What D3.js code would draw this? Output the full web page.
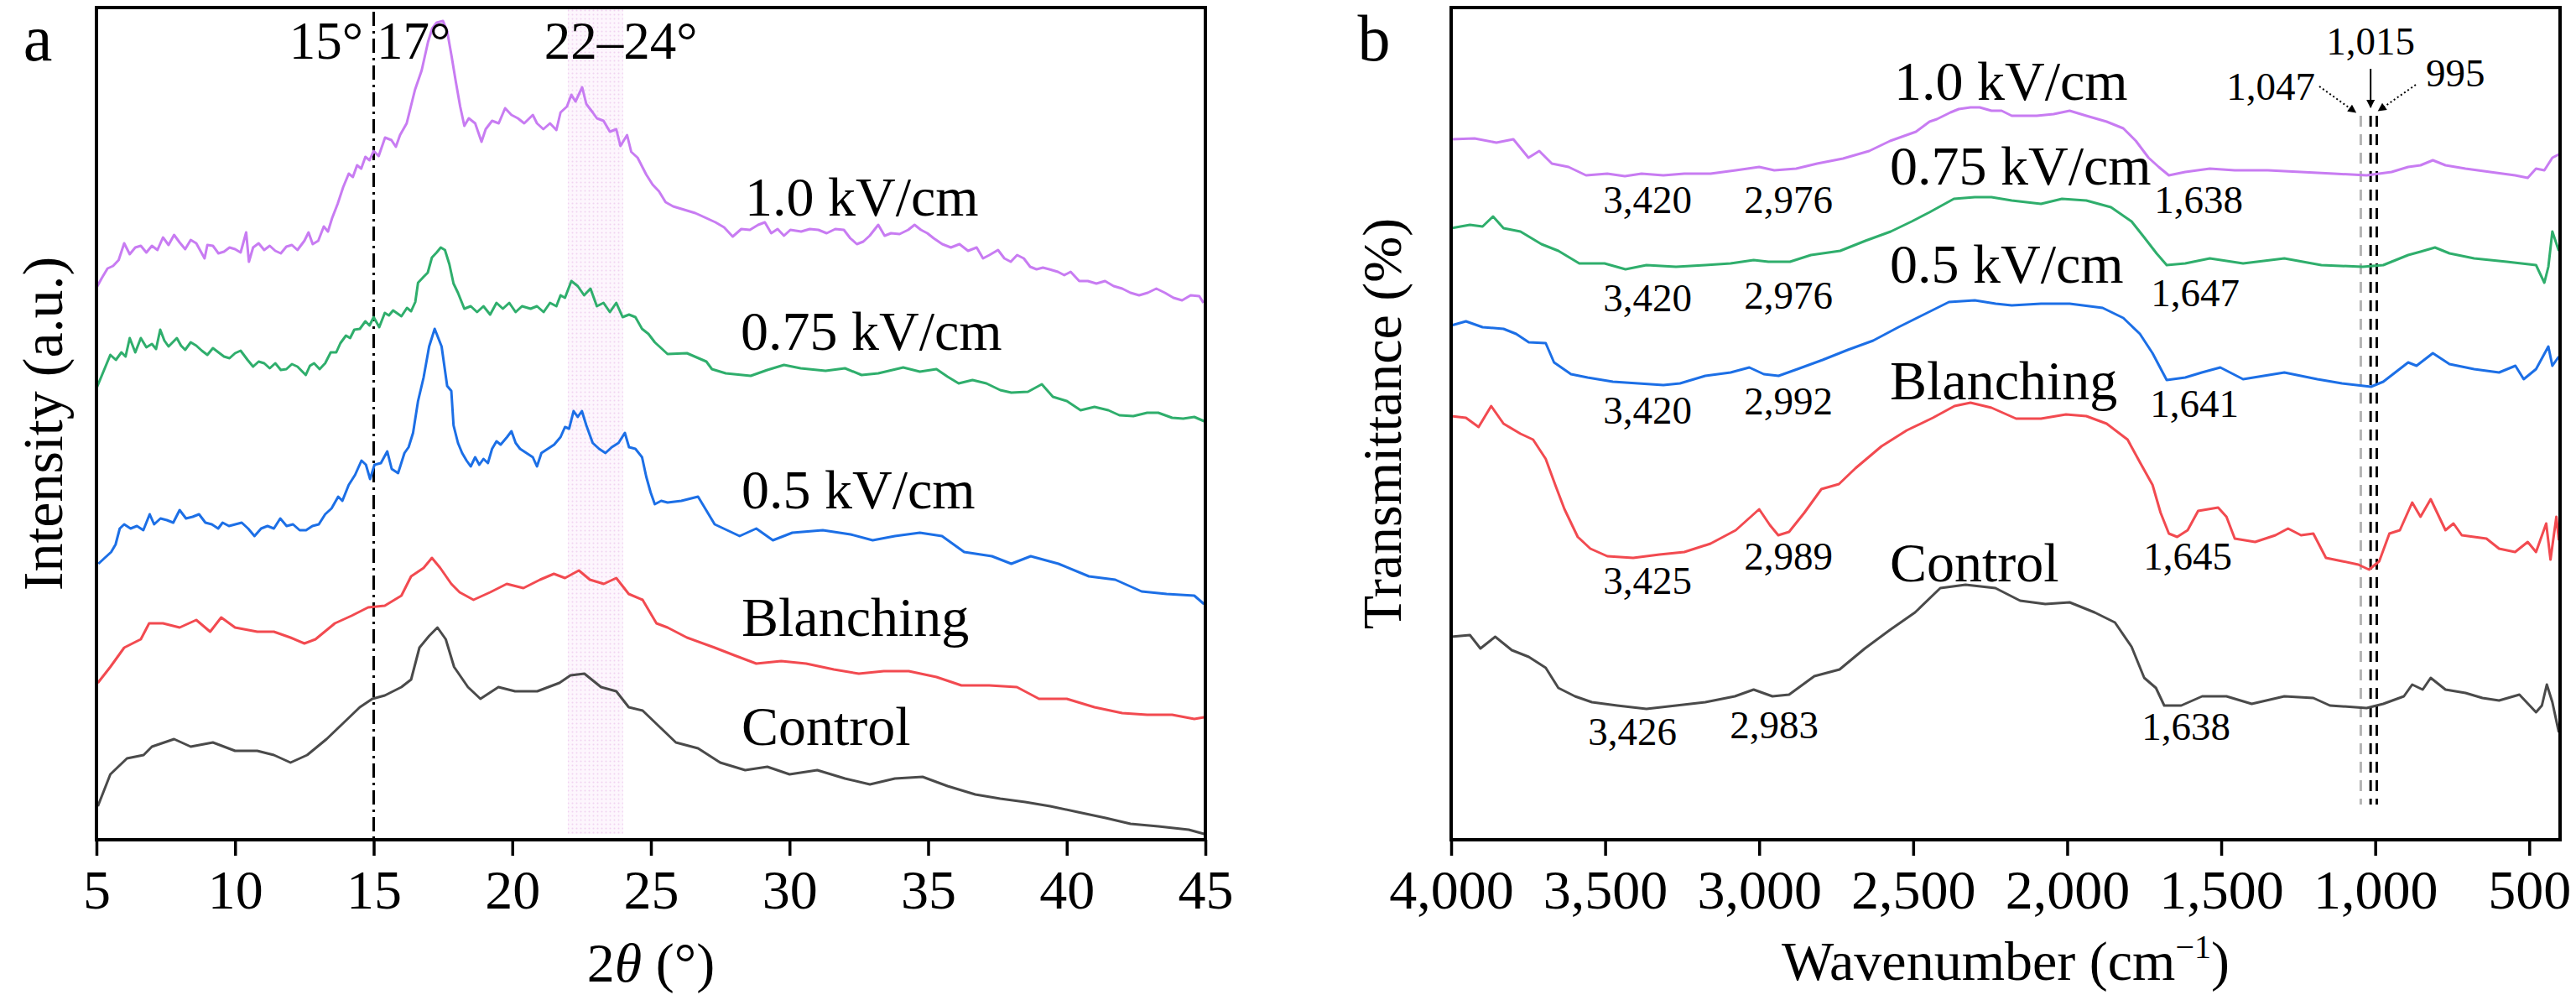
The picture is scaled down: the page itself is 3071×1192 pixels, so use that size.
<!DOCTYPE html>
<html><head><meta charset="utf-8">
<script src="https://cdn.jsdelivr.net/npm/d3@7/dist/d3.min.js"></script>
<style>
body{margin:0;background:#fff}
text{font-family:"Liberation Serif","Times New Roman",serif;fill:#000}
</style>
</head><body>
<svg id="chart" width="3071" height="1192" xmlns="http://www.w3.org/2000/svg"></svg>
<script>
// ---------------- DATA ----------------
const seriesNames = ["1.0 kV/cm", "0.75 kV/cm", "0.5 kV/cm", "Blanching", "Control"];
const xrdTicks = [5, 10, 15, 20, 25, 30, 35, 40, 45];
const ftirTicks = [4000, 3500, 3000, 2500, 2000, 1500, 1000, 500];
const markedWavenumbers = [1047, 1015, 995];

// XRD: [2θ (°), intensity (a.u., stacked)]
const xrd10 = [[5.0,65.8],[5.2,67.0],[5.4,68.1],[5.6,68.4],[5.8,69.1],[6.0,71.1],[6.2,69.8],[6.4,70.6],[6.6,70.8],[6.8,70.0],[7.0,70.8],[7.2,70.3],[7.4,71.8],[7.6,70.9],[7.8,72.1],[8.0,71.2],[8.2,70.4],[8.4,71.5],[8.6,71.1],[8.9,69.3],[9.0,70.9],[9.2,70.8],[9.4,69.9],[9.6,70.1],[9.8,70.6],[10.0,70.4],[10.2,70.0],[10.4,72.4],[10.5,68.9],[10.65,70.6],[10.85,71.1],[11.05,70.3],[11.25,70.8],[11.45,70.2],[11.65,69.9],[11.85,70.7],[12.05,70.9],[12.25,70.3],[12.5,71.4],[12.65,72.4],[12.8,71.0],[13.0,71.4],[13.2,73.1],[13.35,72.5],[13.5,74.1],[13.7,75.8],[13.9,77.8],[14.1,79.4],[14.25,79.0],[14.4,80.4],[14.55,80.0],[14.7,81.4],[14.85,81.0],[15.0,82.1],[15.18,81.5],[15.41,83.7],[15.64,83.4],[15.80,82.6],[15.95,84.0],[16.19,85.4],[16.34,87.4],[16.49,89.4],[16.73,91.7],[16.96,95.1],[17.11,96.7],[17.27,97.4],[17.50,97.6],[17.65,96.4],[17.81,93.4],[17.96,90.4],[18.12,87.4],[18.27,85.1],[18.43,86.0],[18.66,85.4],[18.89,83.2],[19.04,84.7],[19.27,85.7],[19.51,85.4],[19.74,87.2],[19.97,86.4],[20.20,86.0],[20.43,85.4],[20.74,86.4],[20.89,85.4],[21.12,84.7],[21.36,85.4],[21.59,84.6],[21.74,86.7],[21.97,87.4],[22.13,88.8],[22.28,88.0],[22.52,89.7],[22.67,87.7],[22.90,86.7],[23.05,86.0],[23.29,85.7],[23.52,84.4],[23.75,84.7],[23.90,82.7],[24.14,84.0],[24.29,82.0],[24.52,81.3],[24.83,79.3],[25.06,78.1],[25.29,77.3],[25.53,76.0],[25.8,75.5],[26.6,74.7],[27.33,73.6],[27.64,73.0],[27.95,71.9],[28.26,72.8],[28.57,72.7],[28.87,73.3],[29.11,73.6],[29.34,72.3],[29.57,72.8],[29.80,72.0],[30.03,72.7],[30.42,72.5],[30.73,72.8],[31.04,72.7],[31.34,72.3],[31.65,72.8],[31.96,72.7],[32.19,71.7],[32.43,71.0],[32.66,71.3],[32.89,72.0],[33.20,73.3],[33.43,72.0],[33.66,72.3],[33.97,72.2],[34.28,72.7],[34.51,73.3],[34.74,72.7],[34.97,72.3],[35.20,71.7],[35.51,71.0],[35.82,70.6],[36.13,71.0],[36.44,70.2],[36.75,70.6],[36.98,69.3],[37.21,69.7],[37.52,70.3],[37.75,69.3],[37.98,68.9],[38.21,69.7],[38.45,69.3],[38.68,68.3],[38.91,68.0],[39.14,68.2],[39.37,68.0],[39.68,67.7],[39.91,67.3],[40.14,67.7],[40.45,66.6],[40.76,66.6],[41.07,66.3],[41.38,66.6],[41.69,66.0],[42.00,65.7],[42.30,65.2],[42.61,64.9],[42.92,65.2],[43.23,65.7],[43.54,65.2],[43.85,64.6],[44.16,64.3],[44.47,64.9],[44.78,64.8],[44.93,64.0]];
const xrd075 = [[5.0,53.8],[5.2,55.4],[5.5,57.8],[5.7,57.2],[5.9,58.1],[6.05,57.6],[6.2,59.8],[6.4,58.1],[6.6,59.8],[6.8,58.7],[7.0,59.1],[7.15,58.5],[7.3,60.8],[7.45,59.5],[7.6,58.8],[7.9,59.8],[8.05,58.9],[8.2,58.4],[8.4,59.3],[8.6,58.9],[8.8,58.3],[9.0,57.8],[9.2,58.6],[9.4,58.1],[9.6,57.6],[9.8,57.4],[10.0,58.0],[10.2,58.3],[10.45,57.2],[10.65,56.4],[10.85,57.0],[11.05,56.8],[11.25,56.2],[11.45,56.8],[11.65,56.0],[11.85,56.1],[12.05,56.7],[12.25,56.4],[12.55,55.4],[12.7,56.5],[12.85,56.8],[13.05,56.1],[13.25,56.8],[13.45,58.1],[13.65,58.1],[13.8,59.2],[14.0,60.1],[14.15,59.8],[14.3,60.8],[14.5,60.9],[14.7,61.8],[14.85,61.3],[15.0,62.3],[15.2,61.1],[15.4,62.8],[15.55,62.5],[15.7,63.1],[16.0,62.4],[16.2,63.4],[16.35,63.0],[16.5,64.1],[16.6,66.4],[16.8,67.1],[16.95,67.6],[17.1,69.4],[17.27,70.0],[17.42,70.6],[17.57,70.3],[17.73,68.6],[17.88,66.3],[18.04,65.2],[18.27,63.3],[18.50,63.6],[18.73,62.9],[18.96,63.6],[19.20,62.6],[19.43,64.0],[19.66,63.3],[19.89,64.0],[20.12,62.9],[20.35,63.6],[20.66,63.3],[20.89,63.6],[21.13,62.9],[21.36,64.0],[21.59,63.6],[21.74,64.9],[21.90,64.6],[22.13,66.6],[22.36,66.0],[22.59,64.9],[22.82,65.7],[23.05,63.6],[23.29,64.0],[23.52,62.9],[23.75,64.0],[23.98,62.3],[24.21,62.6],[24.44,62.3],[24.68,60.9],[24.91,60.3],[25.14,59.3],[25.37,58.6],[25.60,57.9],[26.3,58.0],[27.0,57.0],[27.2,56.1],[27.7,55.6],[28.6,55.3],[29.2,56.0],[29.8,56.6],[30.4,56.2],[31.3,55.9],[32.0,56.2],[32.6,55.4],[33.2,55.6],[34.1,56.3],[34.7,55.8],[35.3,56.1],[35.7,55.2],[36.1,54.4],[36.6,54.8],[37.1,54.4],[37.6,53.6],[38.0,53.3],[38.6,53.4],[39.1,54.3],[39.5,52.8],[40.0,52.3],[40.5,51.2],[41.0,51.6],[41.5,51.2],[41.9,50.6],[42.4,50.5],[42.9,50.9],[43.3,50.9],[43.8,50.3],[44.2,50.2],[44.6,50.4],[44.95,49.9]];
const xrd05 = [[5.07,32.9],[5.30,33.6],[5.53,34.3],[5.69,35.2],[5.84,37.1],[6.00,37.6],[6.23,37.1],[6.46,37.4],[6.69,36.9],[6.92,38.8],[7.08,37.6],[7.31,38.3],[7.54,38.1],[7.77,37.8],[8.00,39.3],[8.23,38.3],[8.47,38.5],[8.70,38.8],[8.93,37.8],[9.16,37.6],[9.39,37.1],[9.55,37.8],[9.78,37.4],[10.01,37.6],[10.24,37.8],[10.47,37.1],[10.70,36.2],[10.94,37.1],[11.17,37.4],[11.40,37.1],[11.63,38.3],[11.86,37.4],[12.09,37.6],[12.33,36.9],[12.56,36.9],[12.79,37.4],[13.02,37.6],[13.25,38.8],[13.48,39.5],[13.72,40.9],[13.87,40.4],[14.10,42.3],[14.33,43.5],[14.56,45.2],[14.72,44.7],[14.87,43.0],[15.03,44.7],[15.26,44.9],[15.49,46.3],[15.65,44.2],[15.88,43.7],[16.11,46.1],[16.26,46.8],[16.42,48.5],[16.6,52.3],[16.8,55.1],[17.0,58.8],[17.2,60.9],[17.45,58.8],[17.65,54.1],[17.8,53.5],[17.88,49.4],[18.04,47.3],[18.19,46.1],[18.35,45.2],[18.50,44.5],[18.66,45.6],[18.81,44.7],[18.96,45.4],[19.12,44.9],[19.27,46.6],[19.43,47.5],[19.58,47.1],[19.81,48.0],[19.97,48.7],[20.12,47.3],[20.28,46.6],[20.51,46.1],[20.74,45.6],[20.89,44.5],[21.05,46.1],[21.28,46.6],[21.51,47.1],[21.74,48.0],[21.90,49.2],[22.05,49.0],[22.21,51.1],[22.36,50.4],[22.51,51.1],[22.67,49.4],[22.90,47.3],[23.13,46.6],[23.36,46.1],[23.59,46.8],[23.83,47.3],[24.06,48.5],[24.21,46.8],[24.44,46.6],[24.68,45.6],[24.83,43.3],[24.99,41.4],[25.14,40.0],[25.37,40.4],[25.60,40.2],[26.1,40.4],[26.7,40.9],[27.3,37.6],[28.2,36.2],[28.8,37.1],[29.4,35.7],[30.1,36.6],[31.2,36.9],[32.2,36.4],[33.0,35.7],[33.8,36.2],[34.7,36.6],[35.5,36.2],[36.3,34.3],[37.3,33.8],[38.0,32.9],[38.7,33.8],[39.7,32.9],[40.8,31.4],[41.75,31.0],[42.7,29.6],[43.6,29.3],[44.6,29.1],[44.95,28.1]];
const xrdBlanching = [[5.05,18.7],[5.5,20.6],[6.0,22.9],[6.6,23.9],[6.9,25.8],[7.4,25.8],[8.0,25.3],[8.6,26.2],[9.1,24.8],[9.5,26.5],[10.0,25.3],[10.8,24.8],[11.4,24.8],[12.0,24.1],[12.5,23.4],[12.9,23.9],[13.6,25.8],[14.2,26.7],[14.8,27.7],[15.4,27.9],[16.0,29.1],[16.35,31.4],[16.8,32.4],[17.1,33.6],[17.4,32.4],[17.8,30.5],[18.1,29.5],[18.6,28.6],[19.2,29.5],[19.8,30.5],[20.4,30.0],[21.0,31.0],[21.5,31.7],[21.9,31.2],[22.4,32.1],[22.8,31.0],[23.3,30.5],[23.75,31.2],[24.2,29.3],[24.7,28.6],[25.2,25.8],[25.6,25.3],[26.3,24.1],[27.3,22.9],[28.0,22.0],[28.8,21.0],[29.7,21.3],[30.6,21.0],[31.6,20.3],[32.5,19.8],[33.4,20.1],[34.3,20.1],[35.3,19.4],[36.2,18.4],[37.2,18.4],[38.2,18.2],[39.0,16.8],[40.0,16.8],[41.0,15.8],[42.0,15.1],[42.9,14.9],[43.8,14.9],[44.6,14.4],[44.95,14.6]];
const xrdControl = [[5.05,4.0],[5.5,7.8],[6.1,9.7],[6.7,10.1],[7.0,11.1],[7.8,12.0],[8.4,11.1],[9.2,11.6],[10.0,10.6],[10.8,10.6],[11.4,10.1],[12.0,9.2],[12.6,10.1],[13.3,12.0],[13.9,13.9],[14.5,15.8],[14.95,16.8],[15.4,17.2],[16.0,18.2],[16.35,19.1],[16.65,22.9],[17.0,24.3],[17.3,25.3],[17.6,23.9],[17.9,20.6],[18.4,18.2],[18.85,16.8],[19.5,18.2],[20.1,17.7],[20.9,17.7],[21.7,18.7],[22.1,19.6],[22.6,19.8],[23.2,18.2],[23.75,17.7],[24.2,15.8],[24.7,15.4],[25.3,13.5],[25.9,11.6],[26.7,10.9],[27.5,9.2],[28.4,8.3],[29.2,8.7],[30.0,7.8],[31.0,8.3],[32.0,7.3],[32.9,6.6],[33.8,7.3],[34.8,7.5],[35.7,6.4],[36.7,5.4],[37.6,4.9],[38.5,4.5],[39.4,4.0],[40.4,3.3],[41.4,2.6],[42.3,1.9],[43.3,1.6],[44.4,1.2],[44.95,0.7]];

// FTIR: [wavenumber (cm-1), transmittance (%, stacked a.u.)]
const ftir10 = [[4000,83.5],[3924,83.6],[3853,83.1],[3798,83.5],[3749,81.3],[3714,82.1],[3673,80.6],[3619,80.2],[3562,79.2],[3493,79.4],[3436,79.1],[3382,79.4],[3311,79.2],[3243,79.4],[3158,79.4],[3076,79.8],[3000,80.2],[2951,79.8],[2880,80.0],[2812,80.6],[2728,81.2],[2643,82.1],[2575,83.3],[2491,84.4],[2447,85.6],[2423,85.9],[2379,86.7],[2352,87.1],[2314,87.3],[2284,87.3],[2246,86.9],[2213,86.9],[2180,86.3],[2099,86.3],[2044,86.5],[1992,86.9],[1938,86.3],[1872,85.6],[1818,84.8],[1777,83.3],[1736,81.3],[1703,80.2],[1670,79.2],[1617,79.6],[1537,80.0],[1456,79.8],[1349,79.8],[1241,79.6],[1134,79.4],[1028,79.2],[947,79.6],[893,80.2],[853,80.4],[813,81.0],[772,80.4],[707,80.0],[627,79.6],[546,79.2],[505,78.9],[478,80.0],[451,79.8],[425,81.3],[404,81.7]];
const ftir075 = [[4000,72.9],[3939,73.3],[3898,73.1],[3864,74.3],[3830,72.9],[3775,72.5],[3707,71.0],[3652,70.2],[3584,68.7],[3502,68.7],[3434,68.0],[3366,68.5],[3270,68.3],[3175,68.5],[3093,68.7],[3018,69.1],[2970,68.9],[2900,68.9],[2832,69.7],[2737,70.2],[2655,71.4],[2573,72.5],[2505,73.7],[2447,74.8],[2368,76.4],[2300,76.6],[2246,76.6],[2180,76.2],[2085,75.8],[2017,76.4],[1938,76.2],[1858,75.4],[1791,73.7],[1750,71.8],[1710,69.9],[1677,68.5],[1617,68.7],[1537,69.3],[1429,68.7],[1295,69.3],[1175,68.5],[1041,68.3],[974,68.5],[893,69.7],[853,70.1],[806,70.6],[759,69.9],[679,69.3],[573,68.9],[478,68.5],[451,66.4],[438,68.3],[425,72.5],[404,70.2]];
const ftir05 = [[4000,61.3],[3952,61.8],[3898,61.1],[3830,60.9],[3789,60.3],[3748,59.3],[3693,59.2],[3666,56.9],[3611,55.5],[3557,55.1],[3475,54.6],[3393,54.4],[3311,54.2],[3257,54.4],[3175,55.3],[3093,55.7],[3032,56.3],[2985,55.5],[2937,55.3],[2876,56.1],[2794,57.2],[2712,58.4],[2630,59.5],[2548,61.1],[2466,62.6],[2384,64.1],[2300,64.3],[2232,63.9],[2180,63.7],[2085,63.9],[1992,63.9],[1885,63.4],[1818,62.2],[1764,60.3],[1723,58.0],[1677,54.8],[1617,55.1],[1563,55.7],[1503,56.3],[1429,54.9],[1295,55.7],[1188,54.9],[1108,54.4],[1014,54.0],[974,54.6],[893,56.9],[866,56.5],[813,58.0],[759,56.7],[679,56.1],[598,55.7],[545,56.5],[518,54.9],[478,56.1],[438,58.8],[425,56.5],[404,57.6]];
const ftirBlanching = [[4000,50.5],[3952,50.3],[3911,49.2],[3870,51.7],[3830,49.6],[3775,48.4],[3734,47.7],[3693,45.4],[3660,42.1],[3632,39.4],[3589,36.1],[3548,34.7],[3493,33.8],[3409,33.6],[3324,34.0],[3243,34.3],[3158,35.3],[3076,36.9],[3000,39.4],[2965,37.5],[2938,36.3],[2903,36.7],[2853,39.0],[2798,41.8],[2741,42.4],[2687,44.3],[2603,46.9],[2521,48.8],[2436,50.3],[2366,51.7],[2314,52.1],[2246,51.5],[2166,50.2],[2085,50.2],[2004,50.7],[1938,50.5],[1872,49.6],[1804,47.7],[1764,45.0],[1723,42.3],[1697,39.0],[1670,36.5],[1643,36.1],[1609,36.9],[1575,39.2],[1510,39.6],[1483,38.5],[1456,35.9],[1390,35.5],[1324,36.3],[1283,37.1],[1241,36.3],[1201,36.5],[1160,33.6],[1107,33.2],[1055,32.8],[1020,32.2],[987,33.2],[954,36.5],[920,36.9],[880,40.2],[853,38.5],[820,40.6],[772,36.9],[746,37.7],[719,36.3],[639,35.9],[598,34.7],[546,34.3],[505,35.5],[478,34.3],[445,37.7],[431,33.4],[412,38.5],[404,35.7]];
const ftirControl = [[4000,24.2],[3939,24.4],[3905,22.8],[3857,24.2],[3803,22.6],[3748,21.8],[3693,20.5],[3652,18.1],[3598,17.1],[3543,16.4],[3461,16.0],[3366,15.6],[3270,16.0],[3175,16.4],[3079,17.1],[3018,17.9],[2957,17.1],[2903,17.3],[2821,19.5],[2739,20.3],[2657,22.8],[2576,25.0],[2494,27.1],[2412,30.0],[2330,30.4],[2233,30.0],[2153,28.5],[2071,28.1],[1992,28.3],[1911,27.1],[1845,25.9],[1791,23.0],[1750,19.3],[1712,18.1],[1685,16.0],[1630,16.0],[1562,17.1],[1483,17.1],[1401,16.2],[1295,17.1],[1201,16.9],[1147,16.0],[1028,15.7],[974,16.2],[907,17.1],[880,18.5],[846,17.9],[820,19.3],[772,17.9],[707,17.5],[652,16.9],[598,16.6],[532,17.3],[478,15.2],[459,16.0],[443,18.5],[425,16.4],[404,12.8]];

const peakLabels = [
  ["3,420","2,976","1,638"],
  ["3,420","2,976","1,647"],
  ["3,420","2,992","1,641"],
  ["3,425","2,989","1,645"],
  ["3,426","2,983","1,638"]
];

// ---------------- STYLE / LAYOUT ----------------
const colors = ["#c87cf2", "#2fae6c", "#1c6fe6", "#f24a50", "#4a4a4a"];
const PA = {left:115, right:1437, top:9, bottom:1001};
const PB = {left:1730, right:3052, top:9, bottom:1001};
const FS = 66;

const svg = d3.select("#chart");
const defs = svg.append("defs");
const pat = defs.append("pattern").attr("id","dots").attr("width",5).attr("height",5).attr("patternUnits","userSpaceOnUse");
pat.append("rect").attr("width",5).attr("height",5).attr("fill","#fdf6fd");
pat.append("circle").attr("cx",2.5).attr("cy",2.5).attr("r",1.0).attr("fill","#f1d3f1");
defs.append("marker").attr("id","arrBig").attr("viewBox","0 0 10 10").attr("refX",9).attr("refY",5)
  .attr("markerWidth",9).attr("markerHeight",5).attr("markerUnits","strokeWidth").attr("orient","auto")
  .append("path").attr("d","M0,0 L10,5 L0,10 Z").attr("fill","#000");

// scales
const xa = d3.scaleLinear().domain([5,45]).range([PA.left, PA.right]);
const ya = d3.scaleLinear().domain([0,99.2]).range([PA.bottom, PA.top]);
const xb = d3.scaleLinear().domain([4000,400]).range([PB.left, PB.right]);
const yb = d3.scaleLinear().domain([0,99.2]).range([PB.bottom, PB.top]);

// ---------- Panel a ----------
const ga = svg.append("g");
ga.append("rect").attr("x", xa(22)).attr("y", PA.top+2).attr("width", xa(24)-xa(22)).attr("height", ya(0.7)-PA.top-2).attr("fill","url(#dots)");
ga.append("line").attr("x1", xa(15)).attr("x2", xa(15)).attr("y1", 14).attr("y2", PA.bottom)
  .attr("stroke","#000").attr("stroke-width",3).attr("stroke-dasharray","17,6,3,6");

const lineA = d3.line().x(d=>xa(d[0])).y(d=>ya(d[1]));
[xrd10, xrd075, xrd05, xrdBlanching, xrdControl].forEach((s,i)=>{
  ga.append("path").datum(s).attr("d", lineA).attr("fill","none").attr("stroke", colors[i]).attr("stroke-width",3).attr("stroke-linejoin","round");
});

const axA = ga.append("g").attr("transform",`translate(0,${PA.bottom})`)
  .call(d3.axisBottom(xa).tickValues(xrdTicks).tickSize(19).tickPadding(16).tickFormat(d3.format("d")));
axA.select(".domain").remove();
axA.selectAll(".tick line").attr("stroke","#000").attr("stroke-width",3.5);
axA.selectAll(".tick text").attr("font-size",FS).attr("font-family","Liberation Serif, Times New Roman, serif").attr("fill","#000");
ga.append("rect").attr("x",PA.left).attr("y",PA.top).attr("width",PA.right-PA.left).attr("height",PA.bottom-PA.top)
  .attr("fill","none").attr("stroke","#000").attr("stroke-width",4);

const tA = [[888,257],[883,417],[884,606],[884,758],[884,888]];
seriesNames.forEach((n,i)=>{
  ga.append("text").attr("x",tA[i][0]).attr("y",tA[i][1]).attr("font-size",FS).text(n);
});
ga.append("text").attr("x",433).attr("y",70).attr("font-size",63).attr("text-anchor","end").text("15°");
ga.append("text").attr("x",449).attr("y",70).attr("font-size",63).text("17°");
ga.append("text").attr("x",740).attr("y",70).attr("font-size",63).attr("text-anchor","middle").text("22–24°");
ga.append("text").attr("x",45).attr("y",72).attr("font-size",78).attr("text-anchor","middle").text("a");
const xt = ga.append("text").attr("x",(PA.left+PA.right)/2).attr("y",1170).attr("font-size",FS).attr("text-anchor","middle");
xt.append("tspan").text("2");
xt.append("tspan").attr("font-style","italic").text("θ");
xt.append("tspan").text(" (°)");
ga.append("text").attr("transform",`translate(74,${(PA.top+PA.bottom)/2}) rotate(-90)`).attr("font-size",68).attr("text-anchor","middle").text("Intensity (a.u.)");

// ---------- Panel b ----------
const gb = svg.append("g");
const yTop = 138, yBot = 959;
markedWavenumbers.forEach((w,i)=>{
  gb.append("line").attr("x1",xb(w)).attr("x2",xb(w)).attr("y1",yTop).attr("y2",yBot)
    .attr("stroke", i===0 ? "#b4b4b4" : "#000").attr("stroke-width",3).attr("stroke-dasharray","13,9");
});
const lineB = d3.line().x(d=>xb(d[0])).y(d=>yb(d[1]));
[ftir10, ftir075, ftir05, ftirBlanching, ftirControl].forEach((s,i)=>{
  gb.append("path").datum(s).attr("d", lineB).attr("fill","none").attr("stroke", colors[i]).attr("stroke-width",3).attr("stroke-linejoin","round");
});
const axB = gb.append("g").attr("transform",`translate(0,${PB.bottom})`)
  .call(d3.axisBottom(xb).tickValues(ftirTicks).tickSize(19).tickPadding(16).tickFormat(d3.format(",")));
axB.select(".domain").remove();
axB.selectAll(".tick line").attr("stroke","#000").attr("stroke-width",3.5);
axB.selectAll(".tick text").attr("font-size",FS).attr("font-family","Liberation Serif, Times New Roman, serif").attr("fill","#000");
gb.append("rect").attr("x",PB.left).attr("y",PB.top).attr("width",PB.right-PB.left).attr("height",PB.bottom-PB.top)
  .attr("fill","none").attr("stroke","#000").attr("stroke-width",4);

const tB = [[2258,119],[2253,220],[2253,337],[2253,476],[2253,693]];
seriesNames.forEach((n,i)=>{
  gb.append("text").attr("x",tB[i][0]).attr("y",tB[i][1]).attr("font-size",FS).text(n);
});
const peakPos = [
  [[1964,254],[2132,254],[2621,254]],
  [[1964,371],[2132,368],[2617,365]],
  [[1964,505],[2132,494],[2616,497]],
  [[1964,708],[2132,679],[2608,679]],
  [[1946,888],[2115,880],[2606,882]]
];
peakLabels.forEach((row,i)=>row.forEach((t,j)=>{
  gb.append("text").attr("x",peakPos[i][j][0]).attr("y",peakPos[i][j][1]).attr("font-size",47).attr("text-anchor","middle").text(t);
}));
gb.append("text").attr("x",2760).attr("y",119).attr("font-size",47).attr("text-anchor","end").text("1,047");
gb.append("text").attr("x",xb(1015)).attr("y",65).attr("font-size",47).attr("text-anchor","middle").text("1,015");
gb.append("text").attr("x",2892).attr("y",103).attr("font-size",47).text("995");
gb.append("line").attr("x1",xb(1015)).attr("x2",xb(1015)).attr("y1",82).attr("y2",128).attr("stroke","#000").attr("stroke-width",2).attr("marker-end","url(#arrBig)");
gb.append("line").attr("x1",2765).attr("y1",103).attr("x2",xb(1047)-6).attr("y2",134).attr("stroke","#000").attr("stroke-width",2).attr("stroke-dasharray","2,3").attr("marker-end","url(#arrBig)");
gb.append("line").attr("x1",2880).attr("y1",101).attr("x2",xb(995)+2).attr("y2",132).attr("stroke","#000").attr("stroke-width",2).attr("stroke-dasharray","2,3").attr("marker-end","url(#arrBig)");

gb.append("text").attr("x",1638).attr("y",72).attr("font-size",78).attr("text-anchor","middle").text("b");
const xtb = gb.append("text").attr("x",(PB.left+PB.right)/2).attr("y",1168).attr("font-size",FS).attr("text-anchor","middle");
xtb.append("tspan").text("Wavenumber (cm");
xtb.append("tspan").attr("font-size",40).attr("dy",-26).text("−1");
xtb.append("tspan").attr("dy",26).text(")");
gb.append("text").attr("transform",`translate(1670,${(PB.top+PB.bottom)/2}) rotate(-90)`).attr("font-size",66).attr("text-anchor","middle").text("Transmittance (%)");
</script>
</body></html>
